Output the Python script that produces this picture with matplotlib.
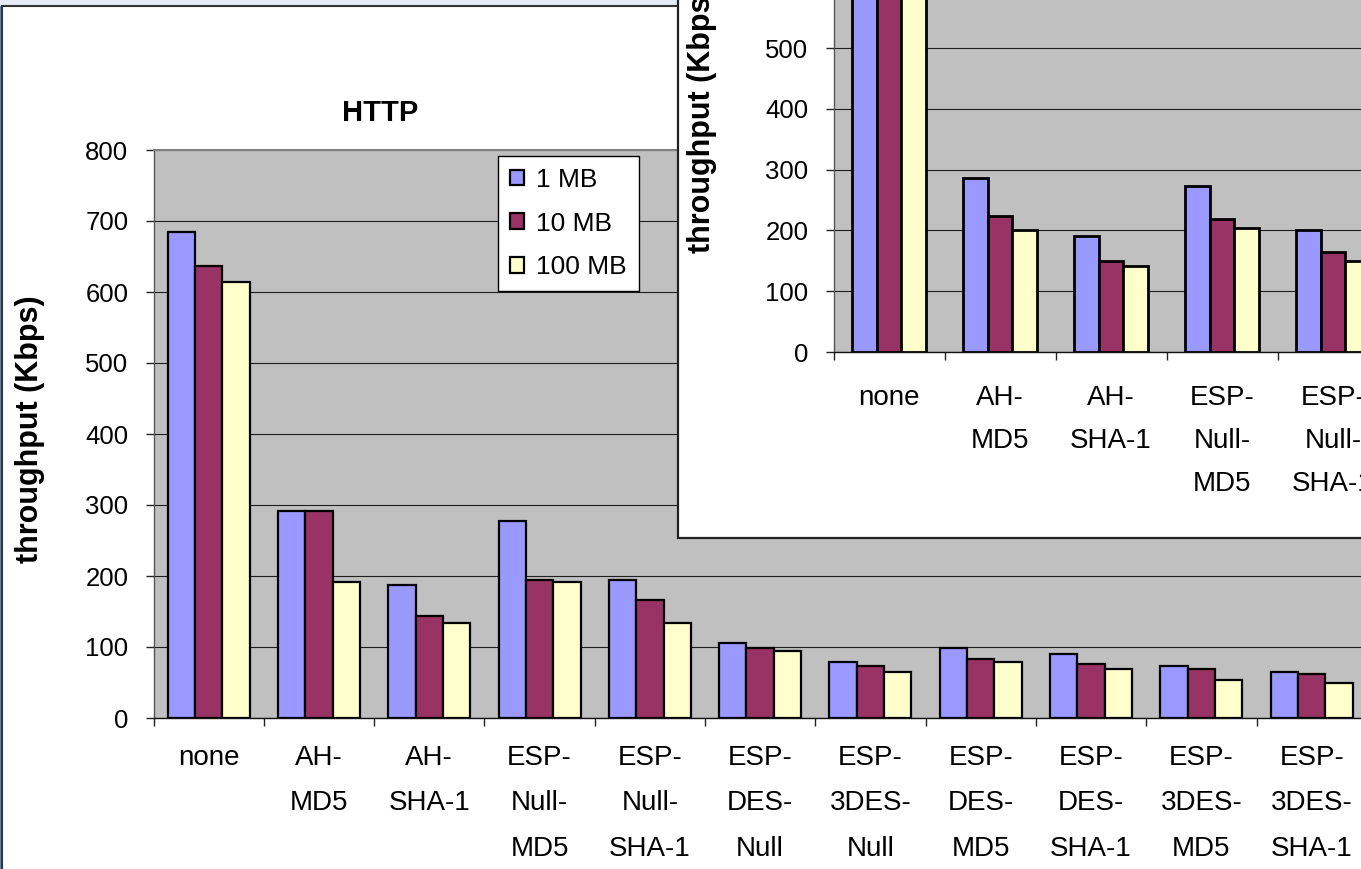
import matplotlib
matplotlib.use("Agg")
import matplotlib.pyplot as plt
from matplotlib.patches import Rectangle
import numpy as np

W, H, DPI = 1361, 869, 100
plt.rcParams["font.family"] = ["Liberation Sans", "DejaVu Sans"]

# ---- data ----
categories = ["none", "AH-\nMD5", "AH-\nSHA-1", "ESP-\nNull-\nMD5", "ESP-\nNull-\nSHA-1",
              "ESP-\nDES-\nNull", "ESP-\n3DES-\nNull", "ESP-\nDES-\nMD5", "ESP-\nDES-\nSHA-1",
              "ESP-\n3DES-\nMD5", "ESP-\n3DES-\nSHA-1"]
series_names = ["1 MB", "10 MB", "100 MB"]
http_1mb = [684, 292, 188, 278, 195, 105, 79, 98, 90, 73, 65]
http_10mb = [637, 292, 144, 195, 166, 98, 73, 83, 76, 69, 62]
http_100mb = [614, 191, 134, 192, 134, 94, 65, 79, 69, 54, 50]

second_categories = categories[:5]
second_1mb = [705, 287, 191, 273, 200]
second_10mb = [660, 223, 150, 218, 164]
second_100mb = [640, 200, 142, 204, 150]

y_ticks = [0, 100, 200, 300, 400, 500, 600, 700, 800]
series_colors = ["#9999FF", "#993366", "#FFFFCC"]
PLOT_BG = "#C0C0C0"
YFS = 18.5   # value labels
XFS = 20     # category labels
LFS = 22     # axis titles


def fx(px):
    return px / W


def fy(py):
    return 1 - py / H


def px_rect(fig, x0, y0, x1, y1, **kw):
    r = Rectangle((fx(x0), fy(y1)), (x1 - x0) / W, (y1 - y0) / H,
                  transform=fig.transFigure, **kw)
    fig.add_artist(r)
    return r


def px_axes(fig, x0, y0, x1, y1, zorder):
    return fig.add_axes([fx(x0), fy(y1), (x1 - x0) / W, (y1 - y0) / H], zorder=zorder)


def bar_chart(ax, cats, series, width, lw, label_pad, ytick_pad, linespacing):
    x = np.arange(len(cats))
    bars = []
    for i, (vals, name, col) in enumerate(zip(series, series_names, series_colors)):
        b = ax.bar(x + (i - 1) * width, vals, width, color=col, edgecolor="black",
                   linewidth=lw, label=name, zorder=3)
        bars.append(b)
    ax.set_facecolor(PLOT_BG)
    ax.set_xlim(-0.5, len(cats) - 0.5)
    ax.set_ylim(0, 800)
    ax.set_yticks(y_ticks)
    ax.yaxis.grid(True, color="#1e1e1e", linewidth=0.8)
    ax.set_axisbelow(True)
    # boundary ticks carry the marks, centre ticks carry the names
    ax.set_xticks(np.arange(len(cats) + 1) - 0.5)
    ax.set_xticklabels([])
    ax.set_xticks(x, minor=True)
    ax.set_xticklabels(cats, minor=True)
    for lbl in ax.get_xticklabels(minor=True):
        lbl.set_linespacing(linespacing)
    ax.tick_params(axis="x", which="major", length=6, width=1, direction="out", color="#222")
    ax.tick_params(axis="x", which="minor", length=0, pad=label_pad, labelsize=XFS)
    ax.tick_params(axis="y", length=6, width=1, direction="out", color="#222",
                   pad=ytick_pad, labelsize=YFS)
    ax.spines["right"].set_visible(False)
    ax.spines["top"].set_color("#808080")
    ax.spines["top"].set_linewidth(1.5)
    ax.spines["left"].set_color("#555555")
    ax.spines["left"].set_linewidth(1)
    ax.spines["bottom"].set_color("#111111")
    ax.spines["bottom"].set_linewidth(1)
    return bars


fig = plt.figure(figsize=(W / DPI, H / DPI), dpi=DPI)
fig.patch.set_facecolor("white")

# window strip above and chart frame of the HTTP chart
px_rect(fig, 0, 0, 680, 6.5, facecolor="#E6ECF7", edgecolor="none", zorder=0.1)
px_rect(fig, 2, 6, 1420, 920, facecolor="white", edgecolor="#333333", linewidth=1.5, zorder=0.2)
px_rect(fig, 0, 6, 1.2, 869, facecolor="#5B86C4", edgecolor="none", zorder=0.3)

# HTTP chart
ax = px_axes(fig, 153.5, 150, 153.5 + 11 * 110.3, 718, zorder=1)
bar_chart(ax, categories, [http_1mb, http_10mb, http_100mb], 0.248, 1.6,
          label_pad=19.5, ytick_pad=12, linespacing=1.97)
leg = ax.legend(loc="upper left", bbox_to_anchor=(fx(498), fy(156)),
                bbox_transform=fig.transFigure, frameon=True, fancybox=False,
                edgecolor="black", framealpha=1, borderaxespad=0, fontsize=19,
                handlelength=0.55, handleheight=0.55, handletextpad=0.45,
                labelspacing=0.75, borderpad=0.45)
leg.get_frame().set_linewidth(1)

fig.text(fx(380), fy(113), "HTTP", ha="center", va="center",
         fontsize=21, fontweight="bold")
fig.text(fx(30), fy(429), "throughput (Kbps)", rotation=90, ha="center",
         va="center", fontsize=LFS, fontweight="bold")

# second chart window lying on top
px_rect(fig, 678, -40, 1420, 538, facecolor="white", edgecolor="#222222",
        linewidth=1.6, zorder=5)
ax2 = px_axes(fig, 833.5, 352 - 8 * 60.8, 833.5 + 5 * 111, 352, zorder=6)
bar_chart(ax2, second_categories, [second_1mb, second_10mb, second_100mb], 0.225, 2.0,
          label_pad=24, ytick_pad=12, linespacing=1.84)
fig.text(fx(702), fy(119), "throughput (Kbps)", rotation=90, ha="center",
         va="center", fontsize=LFS, fontweight="bold", zorder=7)

fig.savefig("out.png", dpi=DPI)
